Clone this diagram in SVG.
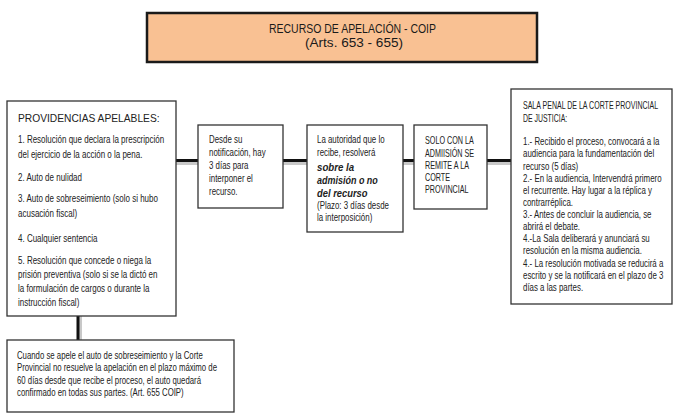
<svg xmlns="http://www.w3.org/2000/svg" width="679" height="417" viewBox="0 0 679 417">
<style>
  text { font-family: "Liberation Sans", "DejaVu Sans", sans-serif; fill: #222; font-size: 10px; }
  .h { font-size: 10.5px; }
  .title { font-size: 12.5px; text-anchor: middle; fill: #1a1a1a; }
  .bi { font-weight: bold; font-style: italic; }
  .box { fill: #fff; stroke: #333; stroke-width: 1.3; }
  .conn { stroke: #111; stroke-width: 3; fill: none; }
  .shadow { stroke: #c8c8c8; stroke-width: 3; fill: none; }
</style>
<rect width="679" height="417" fill="#fff"/>

<g id="connectors">
  <path class="shadow" d="M176 163.5 H198 M283 163.5 H307 M403 163.5 H414 M487 163.5 H511 M80.5 316 V340"/>
  <path class="conn" d="M176 160.5 H198 M283 160.5 H307 M403 160.5 H414 M487 160.5 H511 M78 316 V340"/>
</g>

<g id="title">
  <rect x="147" y="13" width="390" height="49" fill="#F9C193" stroke="#1a1a1a" stroke-width="2.5"/>
  <text class="title" x="352.5" y="33" textLength="167" lengthAdjust="spacingAndGlyphs">RECURSO DE APELACIÓN - COIP</text>
  <text class="title" x="354" y="47" textLength="98" lengthAdjust="spacingAndGlyphs">(Arts. 653 - 655)</text>
</g>

<g id="providencias">
  <rect class="box" x="7" y="101" width="169" height="215"/>
  <g transform="translate(18 0) scale(0.8 1)">
    <text class="h" x="0" y="122" textLength="177" lengthAdjust="spacingAndGlyphs">PROVIDENCIAS APELABLES:</text>
    <text x="0" y="143">1. Resolución que declara la prescripción</text>
    <text x="0" y="158">del ejercicio de la acción o la pena.</text>
    <text x="0" y="181">2. Auto de nulidad</text>
    <text x="0" y="202">3. Auto de sobreseimiento (solo si hubo</text>
    <text x="0" y="217">acusación fiscal)</text>
    <text x="0" y="242">4. Cualquier sentencia</text>
    <text x="0" y="264">5. Resolución que concede o niega la</text>
    <text x="0" y="278">prisión preventiva (solo si se la dictó en</text>
    <text x="0" y="292">la formulación de cargos o durante la</text>
    <text x="0" y="306">instrucción fiscal)</text>
  </g>
</g>

<g id="plazo">
  <rect class="box" x="198" y="125" width="85" height="83"/>
  <g transform="translate(209 0) scale(0.79 1)">
    <text x="0" y="143">Desde su</text>
    <text x="0" y="156">notificación, hay</text>
    <text x="0" y="169">3 días para</text>
    <text x="0" y="182">interponer el</text>
    <text x="0" y="195">recurso.</text>
  </g>
</g>

<g id="autoridad">
  <rect class="box" x="307" y="125" width="96" height="107"/>
  <g transform="translate(317 0) scale(0.79 1)">
    <text x="0" y="143">La autoridad que lo</text>
    <text x="0" y="156">recibe, resolverá</text>
    <text class="bi" x="0" y="171" textLength="47" lengthAdjust="spacingAndGlyphs">sobre la</text>
    <text class="bi" x="0" y="184" textLength="77" lengthAdjust="spacingAndGlyphs">admisión o no</text>
    <text class="bi" x="0" y="197" textLength="64" lengthAdjust="spacingAndGlyphs">del recurso</text>
    <text x="0" y="209">(Plazo: 3 días desde</text>
    <text x="0" y="221">la interposición)</text>
  </g>
</g>

<g id="admision">
  <rect class="box" x="414" y="125" width="73" height="84"/>
  <g transform="translate(425 0) scale(0.72 1)">
    <text x="0" y="144">SOLO CON LA</text>
    <text x="0" y="157">ADMIISIÓN SE</text>
    <text x="0" y="169">REMITE A LA</text>
    <text x="0" y="181">CORTE</text>
    <text x="0" y="193">PROVINCIAL</text>
  </g>
</g>

<g id="sala">
  <rect class="box" x="511" y="89" width="161" height="215"/>
  <g transform="translate(523 0) scale(0.79 1)">
    <text x="0" y="109" textLength="171" lengthAdjust="spacingAndGlyphs">SALA PENAL DE LA CORTE PROVINCIAL</text>
    <text x="0" y="122" textLength="56" lengthAdjust="spacingAndGlyphs">DE JUSTICIA:</text>
    <text x="0" y="145">1.- Recibido el proceso, convocará a la</text>
    <text x="0" y="157">audiencia para la fundamentación del</text>
    <text x="0" y="170">recurso (5 días)</text>
    <text x="0" y="182">2.- En la audiencia, Intervendrá primero</text>
    <text x="0" y="194">el recurrente. Hay lugar a la réplica y</text>
    <text x="0" y="206">contrarréplica.</text>
    <text x="0" y="218">3.- Antes de concluir la audiencia, se</text>
    <text x="0" y="230">abrirá el debate.</text>
    <text x="0" y="242">4.-La Sala deliberará y anunciará su</text>
    <text x="0" y="254">resolución en la misma audiencia.</text>
    <text x="0" y="267">4.- La resolución motivada se reducirá a</text>
    <text x="0" y="279">escrito y se la notificará en el plazo de 3</text>
    <text x="0" y="291">días a las partes.</text>
  </g>
</g>

<g id="sobreseimiento">
  <rect class="box" x="7" y="340" width="227" height="72"/>
  <g transform="translate(17 0) scale(0.78 1)">
    <text x="0" y="359">Cuando se apele el auto de sobreseimiento y la Corte</text>
    <text x="0" y="371">Provincial no resuelve la apelación en el plazo máximo de</text>
    <text x="0" y="384">60 días desde que recibe el proceso, el auto quedará</text>
    <text x="0" y="396">confirmado en todas sus partes. (Art. 655 COIP)</text>
  </g>
</g>
</svg>
